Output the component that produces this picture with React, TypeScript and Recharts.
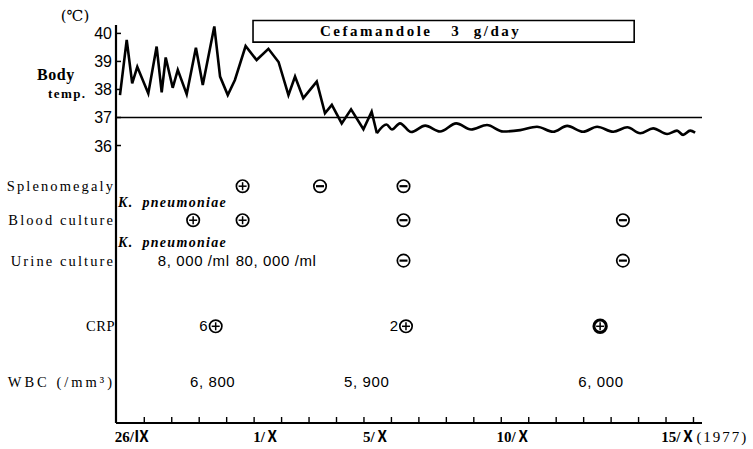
import React from 'react';
import { ComposedChart, Line, Scatter, XAxis, YAxis, ReferenceLine, ReferenceArea } from 'recharts';

// ---- x axis: day positions (tick marks at integer day boundaries) ----
const dayTicks = [0, 1, 2, 3, 4, 5, 6, 7, 8, 9, 10, 11, 12, 13, 14, 15, 16, 17, 18, 19, 20];
const dateLabelPos = [-0.45, 4.45, 8.45, 13.45, 19.45];
const dateLabels = ['26/Ⅸ', '1/Ⅹ', '5/Ⅹ', '10/Ⅹ', '15/Ⅹ'];
const yearNote = '(1977)';
const X_MIN = -1.03;
const X_MAX = 20.31;

// ---- temperature ----
const tempTicks = [36, 37, 38, 39, 40];
const tempUnit = '(℃)';
const tempTitle = ['Body', 'temp.'];
const normalTemp = 37;
const feverDays = [-0.885, -0.64, -0.44, -0.255, 0.146, 0.45, 0.634, 0.78, 1.035, 1.22, 1.545, 1.88, 2.13, 2.55, 2.76, 3.04, 3.3, 3.69, 4.09, 4.52, 4.89, 5.25, 5.49, 5.79, 6.28, 6.58, 6.83, 7.19, 7.53, 7.98, 8.28, 8.47];
const feverTemps = [37.8, 39.77, 38.22, 38.81, 37.86, 39.53, 37.9, 39.14, 38.06, 38.7, 37.83, 39.49, 38.16, 40.25, 38.46, 37.8, 38.34, 39.55, 39.05, 39.45, 38.98, 37.8, 38.46, 37.69, 38.28, 37.15, 37.45, 36.79, 37.29, 36.58, 37.21, 36.44];
const settleDays = [8.47, 8.82, 9.02, 9.31, 9.72, 10.23, 10.77, 11.36, 11.9, 12.48, 13.07, 13.69, 14.3, 14.89, 15.4, 15.98, 16.49, 17.08, 17.59, 18.06, 18.53, 19.04, 19.4, 19.62, 19.88, 20.06];
const settleTemps = [36.44, 36.75, 36.57, 36.79, 36.48, 36.71, 36.5, 36.79, 36.57, 36.73, 36.5, 36.55, 36.67, 36.49, 36.7, 36.49, 36.67, 36.49, 36.65, 36.44, 36.61, 36.41, 36.53, 36.38, 36.53, 36.46];

// ---- drug ----
const drugName = 'Cefamandole   3  g/day';
const drugStart = 3.96;
const drugEnd = 17.84;
const drugBand = [39.69, 40.46];

// ---- rows ----
const rowNames = ['Splenomegaly', 'Blood culture', 'Urine culture', 'CRP', 'WBC (/mm³)'];
const rowLevels = [8.1, 9.81, 11.84, 15.14, 17.95];

const spleenDays = [3.58, 6.4, 9.44];
const spleenSigns = ['+', '-', '-'];
const bloodDays = [1.78, 3.58, 9.44, 17.43];
const bloodSigns = ['+', '+', '-', '-'];
const urineDays = [9.44, 17.43];
const urineSigns = ['-', '-'];
const crpDays = [2.6, 9.53, 16.6];
const crpValues = ['6', '2', ''];
const crpSigns = ['+', '+', '+'];
const wbcDays = [2.49, 8.1, 16.63];
const wbcCounts = ['6, 800', '5, 900', '6, 000'];

const organismGenus = 'K.';
const organismSpecies = 'pneumoniae';
const organismLevels = [8.88, 10.9];
const urineCountDays = [1.8, 4.8];
const urineCounts = ['8, 000 /ml', '80, 000 /ml'];

// ---- built tables ----
const feverData = feverDays.map((d, i) => ({ d, t: feverTemps[i] }));
const settleData = settleDays.map((d, i) => ({ d, t: settleTemps[i] }));
const titleData = [{ d: X_MIN, t: tempTicks[tempTicks.length - 1] }];

const marks = [
  ...spleenDays.map((d, i) => ({ d, r: rowLevels[0], sign: spleenSigns[i], note: '', heavy: false })),
  ...bloodDays.map((d, i) => ({ d, r: rowLevels[1], sign: bloodSigns[i], note: '', heavy: false })),
  ...urineDays.map((d, i) => ({ d, r: rowLevels[2], sign: urineSigns[i], note: '', heavy: false })),
  ...crpDays.map((d, i) => ({ d, r: rowLevels[3], sign: crpSigns[i], note: crpValues[i], heavy: crpValues[i] === '' })),
];
const rowLabelData = rowNames.map((text, i) => ({ d: X_MIN, r: rowLevels[i], text }));
const organismData = organismLevels.map((r) => ({ d: X_MIN, r }));
const countData = [
  ...wbcDays.map((d, i) => ({ d, r: rowLevels[4], text: wbcCounts[i] })),
  ...urineCountDays.map((d, i) => ({ d, r: rowLevels[2], text: urineCounts[i] })),
];

const SERIF = '"Liberation Serif", "DejaVu Serif", serif';
const SANS = '"Liberation Sans", Arial, sans-serif';
const DATEFONT = '"Liberation Serif", "Noto Sans CJK JP", serif';

const Mark = (props: any) => {
  const { cx, cy, payload } = props;
  if (cx == null || cy == null) return null;
  const sw = payload.heavy ? 3 : 1.7;
  const r = 6.2;
  return (
    <g>
      <circle cx={cx} cy={cy} r={r} fill="#fff" stroke="#000" strokeWidth={sw} />
      <line x1={cx - 4} x2={cx + 4} y1={cy} y2={cy} stroke="#000" strokeWidth={payload.sign === '-' ? 2.2 : 1.5} />
      {payload.sign === '+' && <line x1={cx} x2={cx} y1={cy - 4} y2={cy + 4} stroke="#000" strokeWidth={1.5} />}
      {payload.note && (
        <text x={cx - 8} y={cy + 5} textAnchor="end" fontFamily={SANS} fontSize={15} fill="#000">
          {payload.note}
        </text>
      )}
    </g>
  );
};

const RowLabel = (props: any) => {
  const { cx, cy, payload } = props;
  if (cx == null || cy == null) return null;
  const ls = payload.text === 'CRP' ? 0.5 : payload.text.startsWith('WBC') ? 3 : 2.1;
  return (
    <text x={cx - 1} y={cy + 5} textAnchor="end" fontFamily={SERIF} fontSize={14.5} letterSpacing={ls} fill="#000">
      {payload.text}
    </text>
  );
};

const Organism = (props: any) => {
  const { cx, cy } = props;
  if (cx == null || cy == null) return null;
  return (
    <text x={cx + 2} y={cy + 5} fontFamily={SERIF} fontSize={14} fontWeight="bold" fontStyle="italic" letterSpacing={1.3} fill="#000">
      <tspan>{organismGenus}</tspan>
      <tspan dx={9}>{organismSpecies}</tspan>
    </text>
  );
};

const Count = (props: any) => {
  const { cx, cy, payload } = props;
  if (cx == null || cy == null) return null;
  return (
    <text x={cx} y={cy + 5} textAnchor="middle" fontFamily={SANS} fontSize={15} letterSpacing={0.6} fill="#000" style={{ whiteSpace: 'pre' }}>
      {payload.text}
    </text>
  );
};

const TempTitle = (props: any) => {
  const { cx, cy } = props;
  if (cx == null || cy == null) return null;
  return (
    <g>
      <text x={cx - 41} y={cy - 12} textAnchor="middle" fontFamily={'"DejaVu Serif", serif'} fontSize={15} fill="#000">
        {tempUnit}
      </text>
      <text x={cx - 79} y={cy + 47} textAnchor="start" fontFamily={SERIF} fontSize={16} fontWeight="bold" letterSpacing={0.6} fill="#000">
        {tempTitle[0]}
      </text>
      <text x={cx - 68} y={cy + 65} textAnchor="start" fontFamily={SERIF} fontSize={13} fontWeight="bold" letterSpacing={1.4} fill="#000">
        {tempTitle[1]}
      </text>
    </g>
  );
};

const DateTick = (props: any) => {
  const { x, y, payload } = props;
  const v = payload.value;
  const li = dateLabelPos.indexOf(v);
  if (li >= 0) {
    return (
      <g>
        <text x={x} y={y + 19} textAnchor="middle" fontFamily={DATEFONT} fontSize={15} fontWeight="bold" fill="#000">
          {dateLabels[li]}
        </text>
        {li === dateLabels.length - 1 && (
          <text x={x + 18} y={y + 19} textAnchor="start" fontFamily={SERIF} fontSize={15} letterSpacing={2} fill="#000">
            {yearNote}
          </text>
        )}
      </g>
    );
  }
  return <line x1={x} x2={x} y1={y} y2={y - 6} stroke="#000" strokeWidth={1.4} />;
};

const TempTick = (props: any) => {
  const { x, y, payload } = props;
  return (
    <g>
      <line x1={x} x2={x + 5} y1={y} y2={y} stroke="#000" strokeWidth={1.5} />
      <text x={x - 4} y={y + 6} textAnchor="end" fontFamily={SANS} fontSize={16} fill="#000">
        {payload.value}
      </text>
    </g>
  );
};

const DrugLabel = (props: any) => {
  const vb = props.viewBox;
  if (!vb) return null;
  return (
    <text x={vb.x + 67} y={vb.y + vb.height / 2 + 5} textAnchor="start" fontFamily={SERIF} fontSize={15} fontWeight="bold" letterSpacing={2.5} fill="#000" style={{ whiteSpace: 'pre' }}>
      {drugName}
    </text>
  );
};

export default function App() {
  return (
    <div style={{ position: 'absolute', left: 0, top: 0, background: '#fff' }}>
      <ComposedChart width={753} height={449} margin={{ top: 25, right: 51, bottom: 0, left: 0 }}>
        <XAxis
          dataKey="d"
          type="number"
          domain={[X_MIN, X_MAX]}
          ticks={[...dayTicks, ...dateLabelPos].sort((a, b) => a - b)}
          interval={0}
          tickLine={false}
          tickSize={0}
          tickMargin={0}
          tick={<DateTick />}
          height={26}
          axisLine={{ stroke: '#000', strokeWidth: 2 }}
        />
        <YAxis
          yAxisId="temp"
          dataKey="t"
          type="number"
          domain={[26.1, 40.3]}
          ticks={tempTicks}
          interval={0}
          width={116}
          tickLine={false}
          tickSize={0}
          tickMargin={0}
          tick={<TempTick />}
          axisLine={{ stroke: '#000', strokeWidth: 2.2 }}
        />
        <YAxis yAxisId="row" orientation="right" width={0} dataKey="r" type="number" domain={[0, 20]} reversed hide />
        <ReferenceArea
          yAxisId="temp"
          x1={drugStart}
          x2={drugEnd}
          y1={drugBand[0]}
          y2={drugBand[1]}
          ifOverflow="visible"
          fill="#fff"
          fillOpacity={1}
          stroke="#000"
          strokeWidth={1.6}
          label={DrugLabel}
        />
        <ReferenceLine yAxisId="temp" y={normalTemp} stroke="#000" strokeWidth={1.6} />
        <Line yAxisId="temp" data={feverData} dataKey="t" type="linear" stroke="#000" strokeWidth={2.6} dot={false} isAnimationActive={false} />
        <Line yAxisId="temp" data={settleData} dataKey="t" type="monotone" stroke="#000" strokeWidth={2.6} dot={false} isAnimationActive={false} />
        <Scatter yAxisId="temp" data={titleData} dataKey="t" shape={<TempTitle />} isAnimationActive={false} />
        <Scatter yAxisId="row" data={rowLabelData} dataKey="r" shape={<RowLabel />} isAnimationActive={false} />
        <Scatter yAxisId="row" data={organismData} dataKey="r" shape={<Organism />} isAnimationActive={false} />
        <Scatter yAxisId="row" data={countData} dataKey="r" shape={<Count />} isAnimationActive={false} />
        <Scatter yAxisId="row" data={marks} dataKey="r" shape={<Mark />} isAnimationActive={false} />
      </ComposedChart>
    </div>
  );
}
